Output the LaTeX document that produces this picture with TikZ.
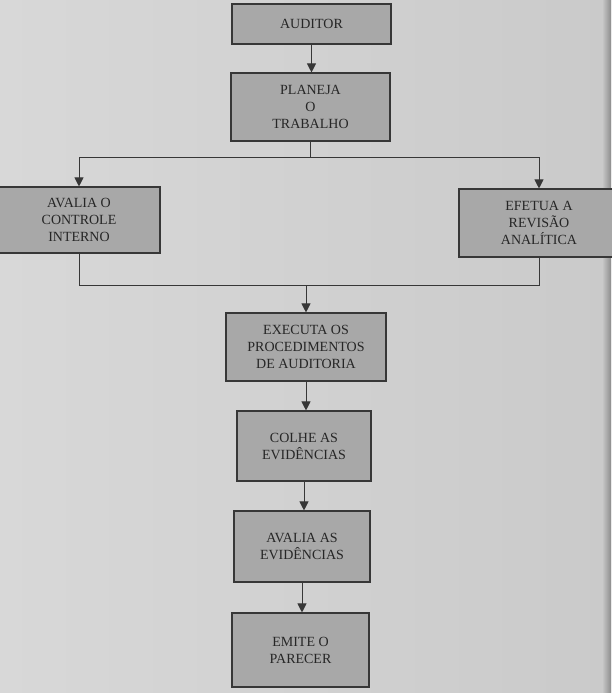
\documentclass[tikz,border=0pt]{standalone}
\usepackage{fontspec}
\setmainfont{Liberation Serif}
\usetikzlibrary{arrows.meta,calc}
\definecolor{bgcol}{RGB}{216,216,216}
\definecolor{bgcolR}{RGB}{202,202,202}
\definecolor{boxfill}{RGB}{168,168,168}
\definecolor{linecol}{RGB}{55,55,55}
\definecolor{textcol}{RGB}{38,38,38}
\begin{document}
\begin{tikzpicture}[x=1pt,y=-1pt,
  box/.style={draw=linecol, line width=1.1pt, fill=boxfill, text=textcol,
    align=center, inner sep=0pt, font=\fontsize{14}{17}\selectfont},
  conn/.style={draw=linecol, line width=1pt},
  arr/.style={conn, -{Triangle[length=9pt,width=9pt]}}]
\useasboundingbox (0,0) rectangle (611,693);
\shade[left color=bgcol, right color=bgcolR] (0,0) rectangle (611,693);
\shade[left color=bgcolR, right color=black!45] (602,0) rectangle (611,693);

\node[box, minimum width=159pt, minimum height=40pt] (aud) at (311.5,24) {AUDITOR};
\node[box, minimum width=159pt, minimum height=68pt] (plan) at (310.5,107) {PLANEJA\\O\\TRABALHO};
\node[box, minimum width=162pt, minimum height=66pt] (ctrl) at (79,220) {AVALIA O\\CONTROLE\\INTERNO};
\node[box, minimum width=160pt, minimum height=68pt] (rev) at (539,223) {EFETUA A\\REVISÃO\\ANALÍTICA};
\node[box, minimum width=160pt, minimum height=68pt] (exe) at (306,347) {EXECUTA OS\\PROCEDIMENTOS\\DE AUDITORIA};
\node[box, minimum width=134pt, minimum height=70pt] (col) at (304,446) {COLHE AS\\EVIDÊNCIAS};
\node[box, minimum width=136pt, minimum height=71pt] (ava) at (302,546.5) {AVALIA AS\\EVIDÊNCIAS};
\node[box, minimum width=137pt, minimum height=74pt] (emi) at (300.5,650) {EMITE O\\PARECER};

\coordinate (j1) at (310.5,157);
\coordinate (j2) at (306,285);

\draw[arr] (aud.south) -- (aud.south |- plan.north);
\draw[conn] (plan.south) -- (j1);
\draw[arr] (j1) -| (ctrl.north);
\draw[arr] (j1) -| (rev.north);
\draw[conn] (ctrl.south) |- (j2);
\draw[conn] (rev.south) |- (j2);
\draw[arr] (j2) -- (exe.north);
\draw[arr] (exe.south) -- (exe.south |- col.north);
\draw[arr] (col.south) -- (col.south |- ava.north);
\draw[arr] (ava.south) -- (ava.south |- emi.north);
\end{tikzpicture}
\end{document}
